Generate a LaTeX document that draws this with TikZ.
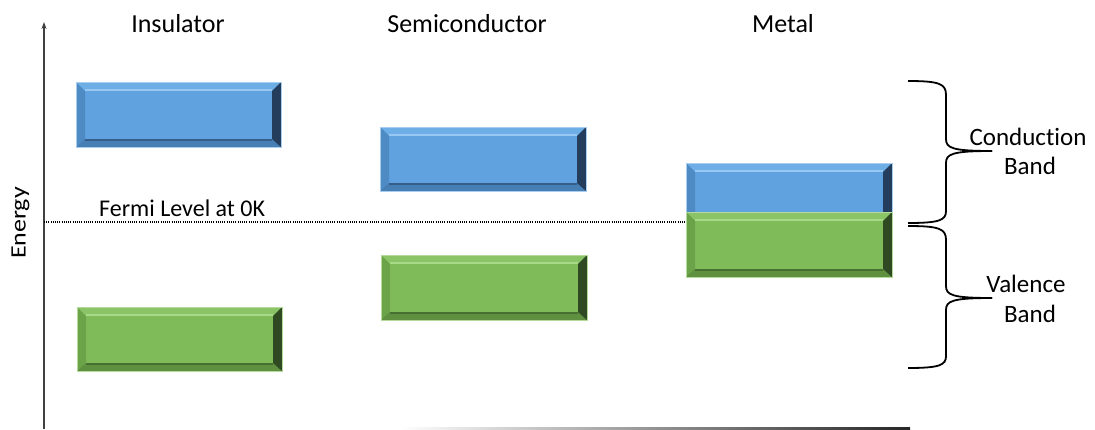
\documentclass[tikz,border=0pt]{standalone}
\usepackage{fontspec}
\setmainfont{Carlito}[Ligatures=NoCommon]
\usetikzlibrary{calc,arrows.meta}
\definecolor{bmain}{HTML}{5FA2DF}
\definecolor{btop}{HTML}{6EAEE6}
\definecolor{bhi}{HTML}{96C8F2}
\definecolor{bleft}{HTML}{4E8BC5}
\definecolor{bright}{HTML}{243D5C}
\definecolor{bbot}{HTML}{477EB3}
\definecolor{bline}{HTML}{355F8A}
\definecolor{bedge}{HTML}{A9CDEE}
\definecolor{gmain}{HTML}{80BB5A}
\definecolor{gtop}{HTML}{8AC466}
\definecolor{ghi}{HTML}{A8D989}
\definecolor{gleft}{HTML}{6AA348}
\definecolor{gright}{HTML}{2F4A23}
\definecolor{gbot}{HTML}{5E9040}
\definecolor{gline}{HTML}{486F32}
\definecolor{gedge}{HTML}{B5DA9D}
\definecolor{axisgrey}{HTML}{404040}
\tikzset{
  title/.style={font=\fontsize{26}{30}\selectfont, anchor=base, inner sep=0},
  sidelabel/.style={font=\fontsize{25}{30}\selectfont, align=center, inner sep=0},
  bracestyle/.style={line width=1.8pt, black},
}
% #1 name, #2 x1, #3 y1, #4 x2, #5 y2, #6 colour prefix
\newcommand\bandbox[6]{%
  \path (#2,#3) coordinate (#1-nw) (#4,#3) coordinate (#1-ne)
        (#4,#5) coordinate (#1-se) (#2,#5) coordinate (#1-sw)
        (#2+9,#3+9) coordinate (#1-inw) (#4-9,#3+9) coordinate (#1-ine)
        (#4-9,#5-8) coordinate (#1-ise) (#2+9,#5-8) coordinate (#1-isw);
  \node[inner sep=0, minimum width={#4-#2}, minimum height={#5-#3}] (#1) at ({(#2+#4)/2},{(#3+#5)/2}) {};
  \fill[#6main] (#1-nw) rectangle (#1-se);
  \fill[#6top] (#1-nw) -- (#1-ne) -- (#1-ine) -- (#1-inw) -- cycle;
  \fill[#6left] (#1-nw) -- (#1-inw) -- (#1-isw) -- (#1-sw) -- cycle;
  \fill[#6bot] (#1-sw) -- (#1-isw) -- (#1-ise) -- (#1-se) -- cycle;
  \fill[#6right] (#1-ne) -- (#1-se) -- (#1-ise) -- (#1-ine) -- cycle;
  \draw[#6hi, line width=1.6pt] ($(#1-inw)+(0,-1)$) -- ($(#1-ine)+(0,-1)$);
  \draw[#6line, line width=1.4pt] ($(#1-isw)+(0,1)$) -- ($(#1-ise)+(0,1)$);
  \draw[#6edge, line width=0.6pt] (#1-nw) rectangle (#1-se);
}
\begin{document}
\begin{tikzpicture}[x=1pt, y=-1pt]
\useasboundingbox (0,0) rectangle (1095,429);
% axis
\coordinate (axbot) at (44,429);
\coordinate (axtop) at (44,22);
\draw[axisgrey, line width=1.4pt, -{Stealth[length=7pt,width=5pt]}] (axbot) -- (axtop);
\node[font=\fontsize{22}{26}\selectfont, rotate=90, anchor=base, inner sep=0] (energy) at (25.5,223) {\scalebox{1.18}[1]{Energy}};
% bottom faded line
\shade[left color=white, right color=black!85] (400,427) rectangle (910,429.5);
% titles
\node[title] (ins) at (178,32) {Insulator};
\node[title] (semi) at (467,32) {Semiconductor};
\node[title] (met) at (783,32) {Metal};
% boxes
\bandbox{insc}{76}{82}{281}{147}{b}
\bandbox{insv}{77}{307}{282}{371}{g}
\bandbox{semc}{380}{127}{586}{191}{b}
\bandbox{semv}{381}{255}{587}{320}{g}
\bandbox{metc}{686}{163}{892}{228}{b}
\bandbox{metv}{686}{212}{892}{277}{g}
% Fermi level
\coordinate (fermiL) at (44,222);
\draw[black, line width=1.1pt, dash pattern=on 1pt off 1.2pt] (fermiL) -- (metv.west |- fermiL);
\node[font=\fontsize{24}{28}\selectfont, anchor=base west, inner sep=0] (fermi) at (99,216.5) {Fermi Level at 0K};
% braces
\coordinate (ctip) at (992,151);
\coordinate (vtip) at (992,298);
\draw[bracestyle] (908,81) .. controls (940,81) and (946,84) .. (946,95) -- (946,139)
   .. controls (946,148) and (952,151) .. (ctip);
\draw[bracestyle] (ctip) .. controls (952,151) and (946,154) .. (946,163) -- (946,211)
   .. controls (946,220) and (940,223) .. (908,223);
\draw[bracestyle] (908,226) .. controls (940,226) and (946,229) .. (946,240) -- (946,286)
   .. controls (946,295) and (952,298) .. (vtip);
\draw[bracestyle] (vtip) .. controls (952,298) and (946,301) .. (946,310) -- (946,356)
   .. controls (946,365) and (940,368) .. (908,368);
\node[sidelabel, anchor=base] (cb1) at (1028,145) {Conduction};
\node[sidelabel, anchor=base] (cb2) at (1030,174) {Band};
\node[sidelabel, anchor=base] (vb1) at (1026,292) {Valence};
\node[sidelabel, anchor=base] (vb2) at (1030,322) {Band};
\end{tikzpicture}
\end{document}
